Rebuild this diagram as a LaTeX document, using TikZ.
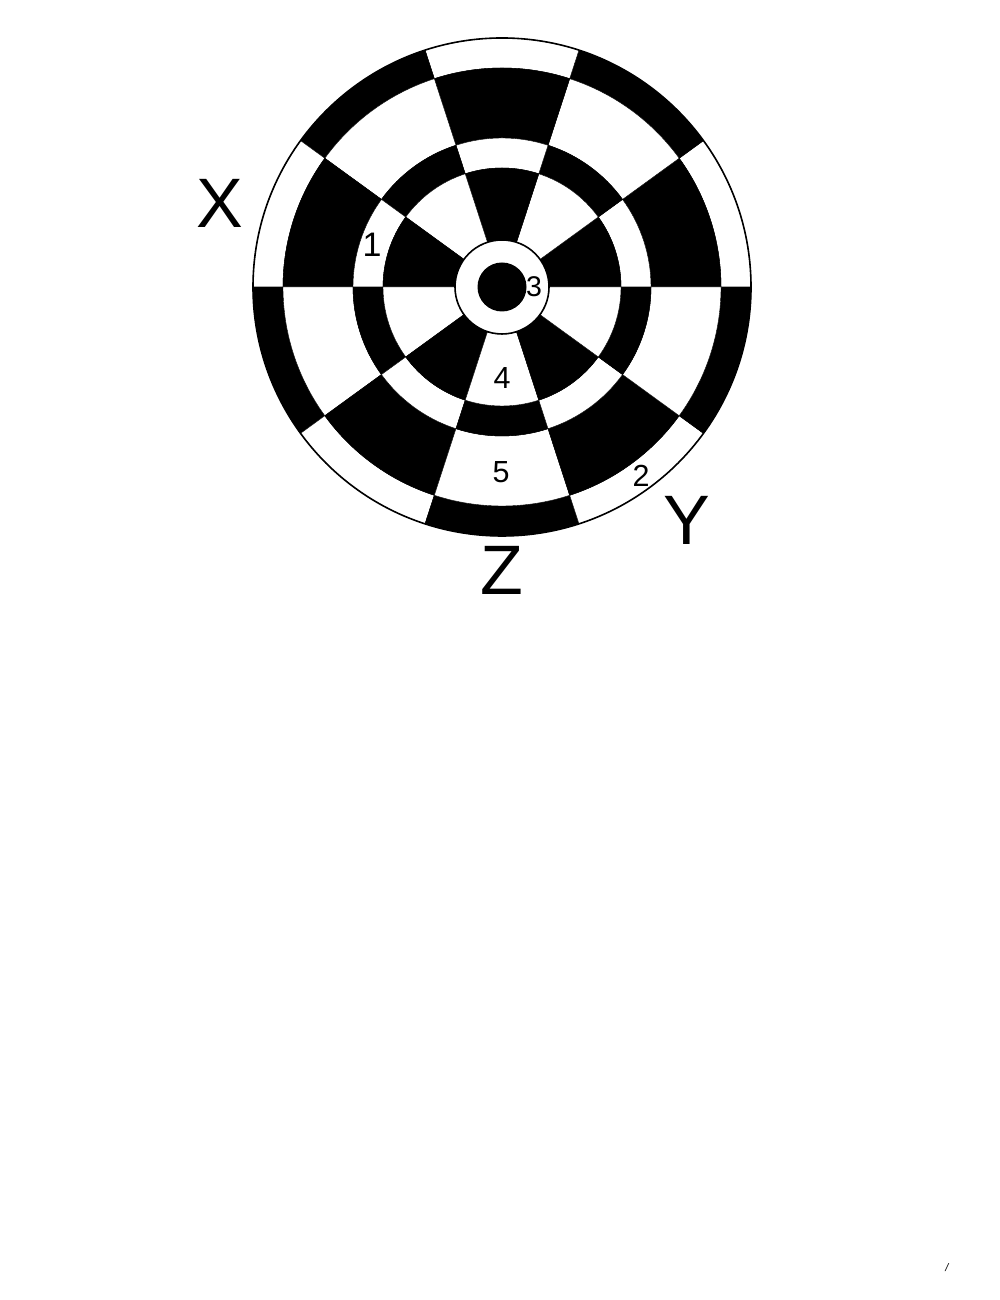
\documentclass[tikz,border=0pt]{standalone}
\usepackage{fontspec}
\setmainfont{Liberation Sans}
\begin{document}
\begin{tikzpicture}[x=1pt,y=1pt,
  cellblack/.style={fill=black,draw=black,line width=0.4pt},
  cellwhite/.style={fill=white,draw=black,line width=0.4pt},
  biglabel/.style={inner sep=0pt,font=\fontsize{70}{84}\selectfont},
  numlabel/.style={inner sep=0pt,font=\fontsize{30.5}{36}\selectfont}]
\useasboundingbox[fill=white] (0,0) rectangle (1000,1300);
\begin{scope}[shift={(502,1013)}]
  \foreach \k in {0,...,9}{
    \foreach \r/\ro/\ri in {0/249/219,1/219/149,2/149/119,3/119/47}{
      \pgfmathtruncatemacro{\myparity}{mod(\k+\r,2)}
      \pgfmathsetmacro{\a}{36*\k}
      \pgfmathsetmacro{\b}{36*\k+36}
      \ifnum\myparity=1
        \path[cellblack] (\a:\ri) -- (\a:\ro) arc[start angle=\a,end angle=\b,radius=\ro] -- (\b:\ri) arc[start angle=\b,end angle=\a,radius=\ri] -- cycle;
      \else
        \path[cellwhite] (\a:\ri) -- (\a:\ro) arc[start angle=\a,end angle=\b,radius=\ro] -- (\b:\ri) arc[start angle=\b,end angle=\a,radius=\ri] -- cycle;
      \fi
    }
  }
  \draw[line width=1.6pt] (0,0) circle[radius=249];
  \draw[fill=white,line width=1.6pt] (0,0) circle[radius=47];
  \fill[black] (0,0) circle[radius=24.5];
\end{scope}
\node[numlabel,font=\fontsize{34}{40}\selectfont] (n1) at (372,1055) {1};
\node[numlabel,font=\fontsize{28.5}{34}\selectfont] (n3) at (534,1013) {3};
\node[numlabel] (n4) at (502,922) {4};
\node[numlabel] (n5) at (501,828) {5};
\node[numlabel] (n2) at (641,824) {2};
\node[biglabel] (lx) at (220,1097) {X};
\node[biglabel] (ly) at (687,780) {Y};
\node[biglabel] (lz) at (502,730) {Z};
\node[inner sep=0pt,font=\fontsize{11}{13}\selectfont\itshape] (slash) at (947,32) {/};
\end{tikzpicture}
\end{document}
